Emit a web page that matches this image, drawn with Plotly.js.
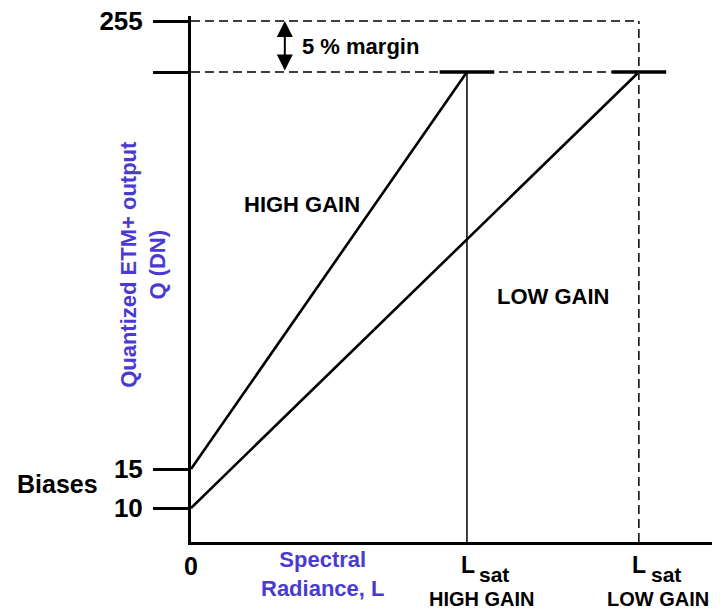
<!DOCTYPE html>
<html>
<head>
<meta charset="utf-8">
<script src="https://cdn.plot.ly/plotly-3.0.1.min.js"></script>
<style>html,body{margin:0;padding:0;background:#fff;}#chart{width:726px;height:612px;}</style>
</head>
<body>
<div id="chart"></div>
<script>
// Schematic levels (vertical display units, axis is not to scale)
var levelNames   = ['Bias low gain', 'Bias high gain', 'Saturation (95%)', 'Max 255'];
var levelValues  = [34, 73, 470, 521];
var levelLabels  = ['10', '15', '', '255'];

// Schematic radiance positions (Lsat high gain = 1)
var radianceNames  = ['0', 'Lsat HIGH GAIN', 'Lsat LOW GAIN'];
var radianceValues = [0, 1.0, 1.623];

// Gain lines
var highGainX = [0, 1.0];
var highGainY = [73, 470];
var lowGainX  = [0, 1.623];
var lowGainY  = [34, 470];

var BLACK = '#000000';
var BLUE = '#4a3bd0';
var FONT = 'Liberation Sans, Arial, Helvetica, sans-serif';

var xMax = 1.888, yMax = 526;
var satLevel = levelValues[2], maxLevel = levelValues[3];
var xHigh = radianceValues[1], xLow = radianceValues[2];

var traces = [
  {x: highGainX, y: highGainY, mode: 'lines', line: {color: BLACK, width: 2.6}, hoverinfo: 'skip'},
  {x: lowGainX, y: lowGainY, mode: 'lines', line: {color: BLACK, width: 2.6}, hoverinfo: 'skip'},
  {x: [0, xLow], y: [maxLevel, maxLevel], mode: 'lines', line: {color: BLACK, width: 1.5, dash: '9px,5px'}, hoverinfo: 'skip'},
  {x: [0, xLow], y: [satLevel, satLevel], mode: 'lines', line: {color: BLACK, width: 1.5, dash: '9px,5px'}, hoverinfo: 'skip'},
  {x: [xLow, xLow], y: [0, maxLevel], mode: 'lines', line: {color: BLACK, width: 1.5, dash: '9px,5px'}, hoverinfo: 'skip'},
  {x: [xHigh, xHigh], y: [0, satLevel], mode: 'lines', line: {color: BLACK, width: 1.5}, hoverinfo: 'skip'},
  {x: [xHigh, xLow], y: [satLevel, satLevel], mode: 'markers',
   marker: {symbol: 'line-ew', size: 39, line: {color: BLACK, width: 3.5}}, hoverinfo: 'skip'}
];

function txt(o) {
  var a = {showarrow: false, xanchor: 'center', yanchor: 'middle'};
  for (var k in o) a[k] = o[k];
  return a;
}
function bold(size, color) { return {family: FONT, size: size, color: color || BLACK, weight: 'bold'}; }

var annotations = [
  {x: 0.34, y: maxLevel, ax: 0.34, ay: satLevel, xref: 'x', yref: 'y', axref: 'x', ayref: 'y',
   text: '', showarrow: true, arrowside: 'end+start', arrowhead: 2, startarrowhead: 2,
   arrowsize: 1.6, startarrowsize: 1.6, arrowwidth: 2, arrowcolor: BLACK, standoff: 0, startstandoff: 0},
  txt({x: 0.395, y: (maxLevel + satLevel) / 2, xref: 'x', yref: 'y', xanchor: 'left',
   text: '5 % margin', font: bold(22)}),
  txt({x: 0.402, y: 338, xref: 'x', yref: 'y', text: 'HIGH GAIN', font: bold(22)}),
  txt({x: 1.312, y: 246, xref: 'x', yref: 'y', text: 'LOW GAIN', font: bold(22)}),
  txt({x: -0.257, y: 0.110, xref: 'paper', yref: 'paper', text: 'Biases', font: bold(25)}),
  txt({x: -0.092, y: 0.527, xref: 'paper', yref: 'paper', text: 'Quantized ETM+ output<br>Q (DN)',
   textangle: -90, font: bold(22, BLUE)}),
  txt({x: 0.252, y: -0.061, xref: 'paper', yref: 'paper', text: 'Spectral<br>Radiance, L', font: bold(22, BLUE)}),
  // Lsat labels
  txt({x: xHigh, y: -0.0437, xref: 'x', yref: 'paper', xshift: 1, text: 'L', font: bold(23)}),
  txt({x: xHigh, y: -0.0627, xref: 'x', yref: 'paper', xshift: 27, text: 'sat', font: bold(21)}),
  txt({x: xHigh, y: -0.1084, xref: 'x', yref: 'paper', xshift: 15, text: 'HIGH GAIN', font: bold(20)}),
  txt({x: xLow, y: -0.0437, xref: 'x', yref: 'paper', xshift: 0, text: 'L', font: bold(23)}),
  txt({x: xLow, y: -0.0627, xref: 'x', yref: 'paper', xshift: 27, text: 'sat', font: bold(21)}),
  txt({x: xLow, y: -0.1084, xref: 'x', yref: 'paper', xshift: 19, text: 'LOW GAIN', font: bold(20)})
];

var layout = {
  width: 726, height: 612,
  margin: {l: 191, r: 14, t: 16, b: 70, pad: 0},
  paper_bgcolor: '#ffffff', plot_bgcolor: '#ffffff',
  showlegend: false,
  font: {family: FONT, color: BLACK},
  xaxis: {
    range: [0, xMax], showgrid: false, zeroline: false,
    showline: true, linecolor: BLACK, linewidth: 3, mirror: false,
    ticks: '', tickvals: [radianceValues[0]], ticktext: ['0'],
    tickfont: bold(25), fixedrange: true
  },
  yaxis: {
    range: [0, yMax], showgrid: false, zeroline: false,
    showline: true, linecolor: BLACK, linewidth: 3,
    ticks: 'outside', ticklen: 35, tickwidth: 3, tickcolor: BLACK,
    tickvals: levelValues, ticktext: levelLabels, ticklabelstandoff: 5,
    tickfont: bold(26), fixedrange: true
  },
  annotations: annotations
};

Plotly.newPlot('chart', traces, layout, {displayModeBar: false, staticPlot: true});
</script>
</body>
</html>
